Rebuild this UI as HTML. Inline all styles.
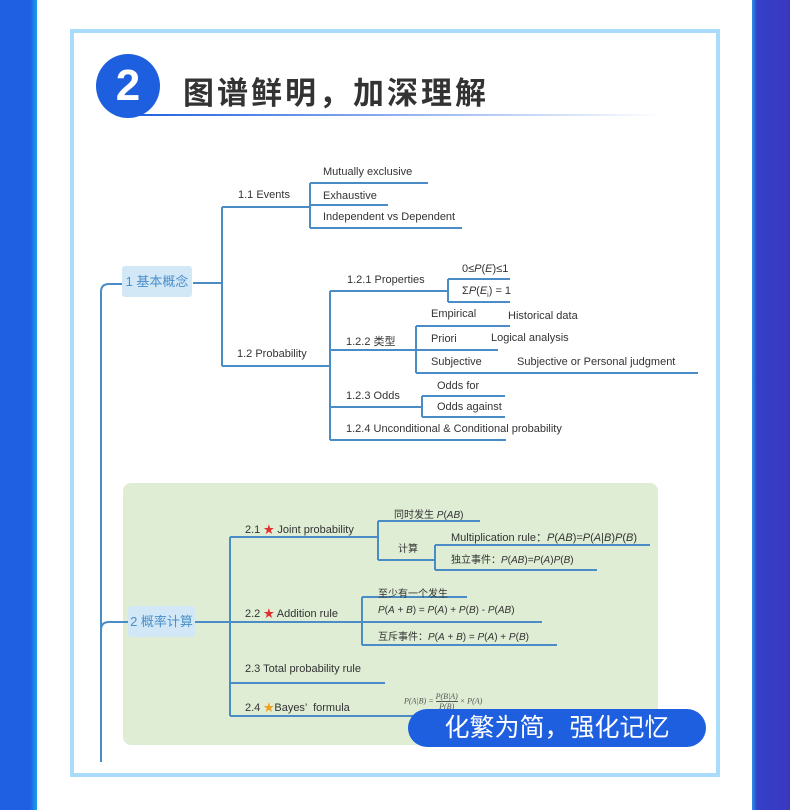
<!DOCTYPE html>
<html><head><meta charset="utf-8"><style>
body{margin:0;width:790px;height:810px;position:relative;background:#fff;overflow:hidden;font-family:"Liberation Sans","Noto Sans CJK SC",sans-serif;}
.a{position:absolute;white-space:nowrap;}
.t{font-size:11px;color:#333;}
</style></head><body>
<div class="a" style="left:0;top:0;width:37px;height:810px;background:linear-gradient(90deg,#1f5fe2 0,#1f5fe2 30px,#1aa0ee 37px);"></div>
<div class="a" style="left:752px;top:0;width:38px;height:810px;background:linear-gradient(90deg,#2a8ee8 0,#3440c8 5px,#3a38c0 38px);"></div>
<div class="a" style="left:70px;top:29px;width:642px;height:740px;border:4px solid #a9dcfa;"></div>
<div class="a" style="left:96px;top:54px;width:64px;height:64px;border-radius:50%;background:#1e5fe0;color:#fff;font-weight:bold;font-size:44px;line-height:64px;text-align:center;">2</div>
<div class="a" style="left:183px;top:68px;font-size:31px;font-weight:bold;color:#333;letter-spacing:3px;">图谱鲜明，加深理解</div>
<div class="a" style="left:128px;top:114px;width:535px;height:2px;background:linear-gradient(90deg,#1e5fe0,rgba(30,95,224,0));"></div>
<div class="a" style="left:123px;top:483px;width:535px;height:262px;background:#dfedd4;border-radius:8px;"></div>
<div class="a" style="left:122px;top:266px;width:70px;height:31px;background:#d3e8f7;border-radius:3px;color:#4a8fc8;font-size:13px;line-height:31px;text-align:center;">1 基本概念</div>
<div class="a" style="left:128px;top:606px;width:67px;height:31px;background:#d3e8f7;border-radius:3px;color:#4a8fc8;font-size:13px;line-height:31px;text-align:center;">2 概率计算</div>
<svg class="a" style="left:0;top:0" width="790" height="810" fill="none" stroke="#4a8cc6" stroke-width="2">
<path d="M101 762V292q0-8 8-8h13M101 630q0-8 8-8h19"/>
<path d="M193 283h29M222 207v159M222 207h88M222 366h108"/>
<path d="M310 183v45M310 183h118M310 205h78M310 228h152"/>
<path d="M330 291v149M330 291h118M448 279v23M448 279h62M448 302h62"/>
<path d="M330 350h86M416 326v47M416 326h94M416 350h82M416 373h282"/>
<path d="M330 407h92M422 396v21M422 396h83M422 417h83M330 440h176"/>
<path d="M195 622h35M230 537v179M230 537h148M378 521v39M378 521h102M378 560h57M435 545v25M435 545h215M435 570h162"/>
<path d="M230 622h132M362 597v48M362 597h105M362 622h180M362 645h195M230 683h155M230 716h190"/>
</svg>
<div class="a t" style="left:323px;top:166px;">Mutually exclusive</div>
<div class="a t" style="left:238px;top:189px;">1.1 Events</div>
<div class="a t" style="left:323px;top:190px;">Exhaustive</div>
<div class="a t" style="left:323px;top:211px;">Independent vs Dependent</div>
<div class="a t" style="left:462px;top:263px;">0≤<i>P</i>(<i>E</i>)≤1</div>
<div class="a t" style="left:347px;top:274px;">1.2.1 Properties</div>
<div class="a t" style="left:462px;top:285px;">Σ<i>P</i>(<i>E</i><sub style="font-size:7px">i</sub>) = 1</div>
<div class="a t" style="left:431px;top:308px;">Empirical</div>
<div class="a t" style="left:508px;top:310px;">Historical data</div>
<div class="a t" style="left:346px;top:333px;">1.2.2 类型</div>
<div class="a t" style="left:431px;top:333px;">Priori</div>
<div class="a t" style="left:491px;top:332px;">Logical analysis</div>
<div class="a t" style="left:237px;top:348px;">1.2 Probability</div>
<div class="a t" style="left:431px;top:356px;">Subjective</div>
<div class="a t" style="left:517px;top:356px;">Subjective or Personal judgment</div>
<div class="a t" style="left:437px;top:380px;">Odds for</div>
<div class="a t" style="left:346px;top:390px;">1.2.3 Odds</div>
<div class="a t" style="left:437px;top:401px;">Odds against</div>
<div class="a t" style="left:346px;top:423px;">1.2.4 Unconditional &amp; Conditional probability</div>
<div class="a t" style="left:394px;top:506px;font-size:10px;">同时发生 <i>P</i>(<i>AB</i>)</div>
<div class="a t" style="left:245px;top:521px;">2.1 <span style="color:#e03030">★</span> Joint probability</div>
<div class="a t" style="left:451px;top:529px;">Multiplication rule：<i>P</i>(<i>AB</i>)=<i>P</i>(<i>A</i>|<i>B</i>)<i>P</i>(<i>B</i>)</div>
<div class="a t" style="left:398px;top:540px;font-size:10px;">计算</div>
<div class="a t" style="left:451px;top:551px;font-size:10px;">独立事件：<i>P</i>(<i>AB</i>)=<i>P</i>(<i>A</i>)<i>P</i>(<i>B</i>)</div>
<div class="a t" style="left:378px;top:585px;font-size:10px;">至少有一个发生</div>
<div class="a t" style="left:245px;top:605px;">2.2 <span style="color:#e03030">★</span> Addition rule</div>
<div class="a t" style="left:378px;top:605px;font-size:10px;"><i>P</i>(<i>A</i> + <i>B</i>) = <i>P</i>(<i>A</i>) + <i>P</i>(<i>B</i>) - <i>P</i>(<i>AB</i>)</div>
<div class="a t" style="left:378px;top:628px;font-size:10px;">互斥事件：<i>P</i>(<i>A</i> + <i>B</i>) = <i>P</i>(<i>A</i>) + <i>P</i>(<i>B</i>)</div>
<div class="a t" style="left:245px;top:663px;">2.3 Total probability rule</div>
<div class="a t" style="left:245px;top:699px;">2.4 <span style="color:#f0a020">★</span>Bayes’ &nbsp;formula</div>
<div class="a" style="left:404px;top:692px;font-size:8px;color:#555;font-family:'Liberation Serif',serif;font-style:italic;">P(A|B) = <span style="display:inline-block;vertical-align:middle;text-align:center;"><span style="display:block;border-bottom:1px solid #555;">P(B|A)</span><span style="display:block;">P(B)</span></span> × P(A)</div>
<div class="a" style="left:408px;top:709px;width:298px;height:38px;border-radius:19px;background:#1e5fe0;color:#fff;font-size:25px;line-height:38px;text-align:center;">化繁为简，强化记忆</div>
</body></html>
